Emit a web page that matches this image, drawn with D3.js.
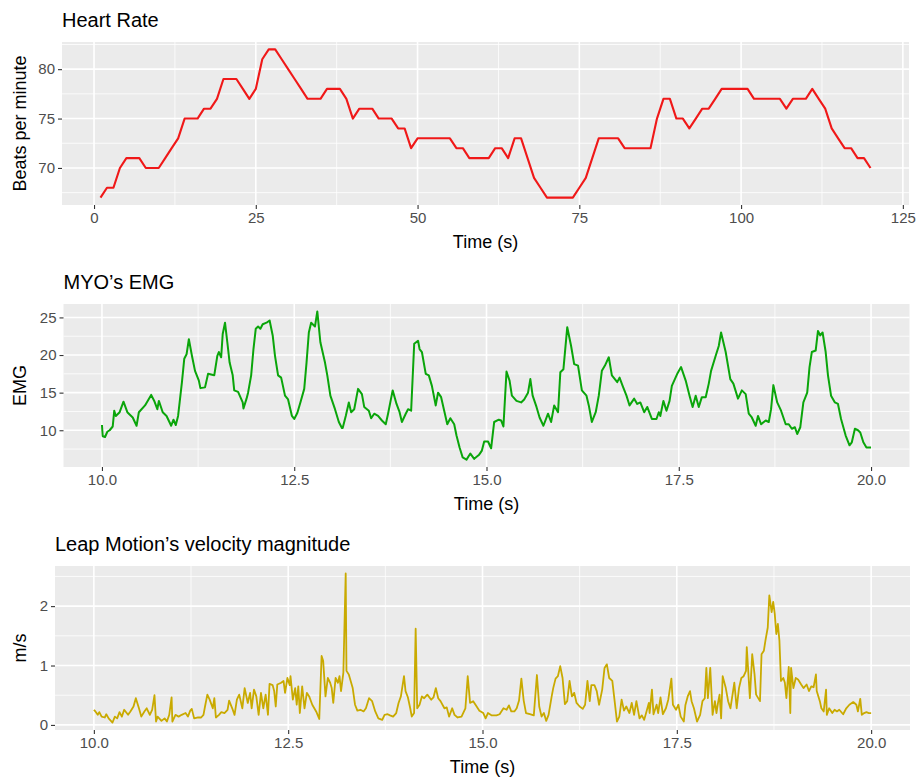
<!DOCTYPE html>
<html>
<head>
<meta charset="utf-8">
<script src="https://cdn.jsdelivr.net/npm/d3@7"></script>
<style>
  body { margin: 0; background: #ffffff; }
  svg text { font-family: "Liberation Sans", Arial, Helvetica, sans-serif; }
</style>
</head>
<body>
<svg id="chart" width="919" height="781"></svg>
<script>
// Heart rate, one reading per second (bpm)
const hrBpm = [
  67, 68, 68, 70, 71, 71, 71, 70, 70, 70,
  71, 72, 73, 75, 75, 75, 76, 76, 77, 79,
  79, 79, 78, 77, 78, 81, 82, 82, 81, 80,
  79, 78, 77, 77, 77, 78, 78, 78, 77, 75,
  76, 76, 76, 75, 75, 75, 74, 74, 72, 73,
  73, 73, 73, 73, 73, 72, 72, 71, 71, 71,
  71, 72, 72, 71, 73, 73, 71, 69, 68, 67,
  67, 67, 67, 67, 68, 69, 71, 73, 73, 73,
  73, 72, 72, 72, 72, 72, 75, 77, 77, 75,
  75, 74, 75, 76, 76, 77, 78, 78, 78, 78,
  78, 77, 77, 77, 77, 77, 76, 77, 77, 77,
  78, 77, 76, 74, 73, 72, 72, 71, 71, 70
];
const hrSeconds = hrBpm.map((_, i) => i + 1);
const hrTimeTicks = [0, 25, 50, 75, 100, 125];
const hrTimeMinor = [12.5, 37.5, 62.5, 87.5, 112.5];
const hrBpmTicks = [70, 75, 80];
const hrBpmMinor = [67.5, 72.5, 77.5, 82.5];

// MYO EMG envelope: [time (s), EMG]
const emgSamples = [
  [10.00,10.7],[10.01,9.2],[10.04,9.1],[10.07,9.8],[10.10,10.0],[10.14,10.5],[10.16,12.6],[10.18,11.9],
  [10.23,12.4],[10.28,13.8],[10.33,12.4],[10.40,11.7],[10.45,10.6],[10.48,12.4],[10.56,13.3],[10.64,14.7],
  [10.68,13.9],[10.72,12.8],[10.74,13.9],[10.79,12.4],[10.84,11.9],[10.90,10.6],[10.93,11.4],[10.96,10.7],
  [10.99,11.9],[11.01,13.7],[11.04,16.4],[11.07,19.5],[11.10,20.1],[11.13,22.1],[11.17,19.9],[11.21,17.9],
  [11.26,16.6],[11.28,15.6],[11.34,15.7],[11.38,17.5],[11.46,17.3],[11.50,19.9],[11.52,20.4],[11.55,19.7],
  [11.57,22.8],[11.60,24.3],[11.63,21.7],[11.66,19.0],[11.70,17.3],[11.72,15.3],[11.77,15.1],[11.83,13.7],
  [11.84,12.9],[11.88,14.2],[11.90,15.0],[11.94,17.3],[11.97,20.8],[12.00,23.5],[12.03,23.8],[12.06,23.5],
  [12.09,24.1],[12.14,24.3],[12.18,24.6],[12.22,22.6],[12.25,19.9],[12.29,17.3],[12.33,17.0],[12.38,14.6],
  [12.42,14.1],[12.47,11.9],[12.50,11.5],[12.54,12.3],[12.58,13.7],[12.63,15.5],[12.66,19.0],[12.69,23.0],
  [12.72,24.3],[12.77,23.8],[12.80,25.8],[12.84,21.7],[12.90,19.0],[12.93,17.3],[12.97,14.6],[13.03,12.8],
  [13.08,11.1],[13.12,10.3],[13.13,10.3],[13.17,11.9],[13.21,13.7],
  [13.24,12.4],[13.28,12.8],[13.33,15.5],[13.38,14.8],[13.41,13.1],[13.47,12.6],[13.50,11.6],[13.54,12.2],
  [13.59,11.9],[13.64,11.3],[13.69,10.8],[13.72,12.2],[13.78,15.3],[13.83,13.5],[13.87,12.4],[13.90,11.1],
  [13.95,12.2],[13.98,12.8],[14.02,12.6],[14.06,21.5],[14.11,21.9],[14.13,20.8],[14.16,20.4],[14.21,17.5],
  [14.25,17.3],[14.29,15.9],[14.34,13.3],[14.37,15.0],[14.41,14.4],[14.45,12.6],[14.49,10.8],[14.53,11.6],
  [14.58,10.8],[14.61,9.3],[14.65,7.7],[14.69,6.4],[14.74,6.1],[14.79,6.9],[14.84,6.2],[14.90,6.7],
  [14.94,7.3],[14.97,8.5],[15.02,8.5],[15.06,7.6],[15.10,11.1],[15.16,11.4],[15.19,11.3],[15.22,10.5],
  [15.26,17.8],[15.30,16.6],[15.33,14.6],[15.39,13.9],[15.45,13.7],[15.49,14.1],[15.54,15.0],[15.57,16.8],
  [15.60,14.6],[15.65,13.1],[15.69,11.7],[15.74,10.6],[15.80,12.2],[15.84,11.1],[15.88,13.3],[15.93,12.4],
  [15.96,17.7],[16.00,18.1],[16.05,23.7],[16.10,21.2],[16.14,18.8],[16.19,18.6],[16.24,15.3],[16.30,14.6],
  [16.33,13.3],[16.37,11.1],[16.42,12.4],[16.46,14.6],[16.50,17.9],[16.54,18.6],[16.59,19.7],[16.63,17.3],
  [16.70,16.4],
  [16.73,17.0],[16.77,15.9],[16.82,14.6],[16.86,13.3],[16.92,14.2],[16.96,13.5],[17.00,13.7],[17.05,12.4],
  [17.09,13.1],[17.15,11.5],[17.21,11.5],[17.24,12.4],[17.26,11.9],[17.30,13.9],[17.34,12.6],[17.38,13.9],
  [17.41,15.9],[17.48,17.5],[17.53,18.4],[17.59,16.6],[17.64,14.6],[17.68,13.1],[17.72,14.6],[17.76,13.1],
  [17.80,14.4],[17.85,14.4],[17.89,16.2],[17.92,17.9],[17.98,19.9],[18.02,21.2],[18.05,23.0],[18.11,20.4],
  [18.17,16.8],[18.21,16.2],[18.27,14.2],[18.32,15.3],[18.37,14.8],[18.41,12.2],[18.45,11.7],[18.50,10.6],
  [18.53,11.9],[18.57,10.8],[18.63,11.3],[18.67,11.1],[18.70,12.8],[18.73,16.0],[18.78,13.7],[18.83,12.6],
  [18.89,10.8],[18.93,10.8],[18.97,10.2],[19.01,10.4],[19.04,9.5],[19.08,10.4],[19.12,13.7],[19.17,15.0],
  [19.20,18.4],[19.23,20.4],[19.28,20.6],[19.31,23.2],[19.34,22.6],[19.37,23.0],[19.41,20.4],[19.44,17.3],
  [19.48,14.6],[19.53,13.7],[19.57,13.5],[19.61,11.5],[19.67,9.3],[19.72,8.0],[19.75,8.4],[19.79,10.2],
  [19.83,10.0],[19.86,9.7],[19.90,8.4],[19.94,7.7],[20.00,7.7]
];
const emgTimeTicks = [10, 12.5, 15, 17.5, 20];
const emgTimeMinor = [11.25, 13.75, 16.25, 18.75];
const emgTicks = [10, 15, 20, 25];
const emgMinor = [7.5, 12.5, 17.5, 22.5];

// Leap Motion hand velocity magnitude: [time (s), m/s]
const leapSamples = [
  [10.00,0.255],[10.02,0.227],[10.05,0.17],[10.07,0.215],[10.10,0.14],[10.14,0.125],[10.16,0.18],[10.19,0.11],
  [10.24,0.04],[10.27,0.14],[10.30,0.11],[10.33,0.215],[10.36,0.14],[10.39,0.255],[10.44,0.17],[10.47,0.227],
  [10.51,0.31],[10.54,0.45],[10.58,0.28],[10.61,0.14],[10.65,0.227],[10.68,0.28],[10.72,0.17],[10.75,0.255],
  [10.78,0.50],[10.80,0.057],[10.82,0.14],[10.87,0.068],[10.91,0.11],[10.94,0.057],[10.97,0.17],[11.00,0.465],
  [11.01,0.057],[11.05,0.17],[11.09,0.14],[11.13,0.17],[11.18,0.20],[11.21,0.14],[11.24,0.24],[11.26,0.27],
  [11.29,0.11],[11.34,0.125],[11.38,0.125],[11.41,0.17],[11.43,0.31],[11.46,0.51],[11.49,0.425],[11.53,0.28],
  [11.55,0.45],[11.57,0.125],[11.61,0.17],[11.64,0.215],[11.68,0.20],[11.72,0.255],[11.74,0.41],[11.78,0.28],
  [11.81,0.17],[11.84,0.425],[11.87,0.51],[11.91,0.28],[11.94,0.62],[11.98,0.37],[12.01,0.54],[12.03,0.28],
  [12.06,0.595],[12.09,0.48],[12.12,0.17],[12.15,0.54],[12.18,0.28],[12.21,0.51],[12.24,0.17],[12.26,0.69],
  [12.30,0.67],[12.32,0.57],[12.34,0.31],[12.36,0.68],
  [12.41,0.71],[12.44,0.74],[12.46,0.54],[12.49,0.79],[12.52,0.67],[12.53,0.82],[12.56,0.425],[12.59,0.62],
  [12.61,0.34],[12.63,0.65],[12.65,0.20],[12.68,0.65],[12.71,0.28],[12.74,0.54],[12.77,0.48],[12.81,0.34],
  [12.86,0.227],[12.90,0.10],[12.93,1.16],[12.95,1.08],[12.98,0.48],[13.01,0.79],[13.04,0.71],[13.06,0.62],
  [13.08,0.37],[13.11,0.79],[13.14,0.71],[13.16,0.82],[13.18,0.57],[13.21,0.88],[13.24,2.55],[13.25,0.91],
  [13.28,0.85],[13.33,0.62],[13.36,0.34],[13.39,0.24],[13.43,0.255],[13.47,0.227],[13.50,0.28],[13.54,0.45],
  [13.58,0.40],[13.62,0.227],[13.66,0.11],[13.71,0.085],[13.74,0.17],[13.78,0.18],[13.81,0.16],[13.85,0.14],
  [13.89,0.20],[13.92,0.37],[13.95,0.48],[13.99,0.82],[14.01,0.57],[14.04,0.465],[14.07,0.28],[14.09,0.14],
  [14.12,0.20],[14.14,1.62],[14.16,0.28],[14.19,0.34],[14.22,0.48],[14.25,0.45],[14.29,0.51],[14.34,0.425],
  [14.37,0.465],[14.40,0.62],[14.43,0.45],[14.46,0.40],[14.51,0.28],[14.54,0.295],[14.57,0.14],[14.61,0.28],
  [14.64,0.17],[14.68,0.125],[14.73,0.14],[14.78,0.28],[14.81,0.82],[14.84,0.37],[14.88,0.40],[14.91,0.34],
  [14.96,0.24],
  [15.01,0.20],[15.04,0.11],[15.07,0.20],[15.12,0.16],[15.18,0.16],[15.22,0.18],[15.27,0.28],[15.31,0.255],
  [15.34,0.33],[15.37,0.227],[15.41,0.227],[15.44,0.28],[15.47,0.41],[15.50,0.78],[15.53,0.41],[15.56,0.20],
  [15.61,0.18],[15.66,0.16],[15.70,0.84],[15.73,0.31],[15.76,0.14],[15.79,0.20],[15.82,0.068],[15.85,0.17],
  [15.89,0.48],[15.91,0.62],[15.94,0.78],[15.97,0.82],[16.00,0.99],[16.03,0.79],[16.06,0.35],[16.09,0.40],
  [16.12,0.74],[16.15,0.48],[16.18,0.54],[16.21,0.37],[16.25,0.31],[16.29,0.27],[16.32,0.34],[16.35,0.74],
  [16.38,0.40],[16.40,0.67],[16.44,0.67],[16.47,0.57],[16.50,0.34],[16.54,0.595],[16.57,0.96],[16.60,1.02],
  [16.63,0.79],[16.67,0.74],[16.70,0.40],[16.73,0.057],[16.76,0.14],[16.79,0.425],[16.82,0.24],[16.85,0.31],
  [16.89,0.20],[16.92,0.37],[16.95,0.17],[16.98,0.40],[17.02,0.11],[17.05,0.16],[17.08,0.085],[17.11,0.227],
  [17.14,0.37],[17.15,0.20],[17.18,0.595],[17.20,0.18],[17.24,0.34],[17.26,0.20],[17.29,0.465],[17.32,0.18],
  [17.36,0.28],[17.39,0.425],[17.43,0.78],[17.45,0.34],[17.49,0.255],[17.52,0.34],[17.55,0.14],[17.59,0.057],
  [17.61,0.33],[17.64,0.48],
  [17.67,0.57],[17.69,0.40],[17.72,0.28],[17.76,0.057],[17.80,0.17],[17.83,0.40],[17.86,0.45],[17.88,0.96],
  [17.90,0.45],[17.93,0.96],[17.96,0.17],[17.99,0.40],[18.01,0.20],[18.03,0.37],[18.05,0.51],[18.07,0.11],
  [18.09,0.82],[18.13,0.62],[18.16,0.40],[18.19,0.28],[18.21,0.45],[18.24,0.71],[18.27,0.28],[18.30,0.62],
  [18.33,0.79],[18.36,0.82],[18.39,0.91],[18.40,1.31],[18.44,0.45],[18.47,1.19],[18.50,0.85],[18.52,0.51],
  [18.57,0.40],[18.59,1.19],[18.62,1.25],[18.64,1.42],[18.67,1.64],[18.69,2.18],[18.72,1.90],[18.74,2.07],
  [18.76,1.87],[18.78,1.53],[18.80,1.70],[18.82,1.42],[18.84,0.74],[18.87,0.79],[18.89,0.71],[18.91,0.45],
  [18.94,0.975],[18.96,0.20],[18.97,0.96],[19.00,0.62],[19.03,0.79],[19.06,0.765],[19.10,0.68],[19.13,0.62],
  [19.17,0.68],[19.20,0.57],[19.23,0.65],[19.26,0.635],[19.29,0.85],[19.30,0.57],[19.34,0.40],[19.36,0.28],
  [19.39,0.227],[19.42,0.595],[19.43,0.17],[19.46,0.28],[19.50,0.20],[19.53,0.255],[19.56,0.227],[19.59,0.255],
  [19.64,0.18],[19.68,0.28],[19.72,0.34],[19.77,0.385],[19.81,0.34],[19.83,0.227],[19.86,0.44],[19.88,0.17],
  [19.91,0.20],[19.94,0.215],[19.97,0.20],[20.00,0.20]
];
const leapTimeTicks = [10, 12.5, 15, 17.5, 20];
const leapTimeMinor = [11.25, 13.75, 16.25, 18.75];
const leapTicks = [0, 1, 2];
const leapMinor = [0.5, 1.5, 2.5];

const svg = d3.select("#chart");

// ggplot-style continuous scale padding: 5% of the data range on each side
function padded(extent) {
  const pad = (extent[1] - extent[0]) * 0.05;
  return [extent[0] - pad, extent[1] + pad];
}

function drawPanel(p) {
  const g = svg.append("g");
  const x = d3.scaleLinear()
    .domain(padded(d3.extent(p.samples, d => d[0])))
    .range([p.left, p.right]);
  const y = d3.scaleLinear()
    .domain(padded(d3.extent(p.samples, d => d[1])))
    .range([p.bottom, p.top]);

  g.append("rect")
    .attr("x", p.left).attr("y", p.top)
    .attr("width", p.right - p.left).attr("height", p.bottom - p.top)
    .attr("fill", "#EBEBEB");

  // minor grid
  g.selectAll(".vminor").data(p.xMinor).join("line")
    .attr("x1", d => x(d)).attr("x2", d => x(d))
    .attr("y1", p.top).attr("y2", p.bottom)
    .attr("stroke", "#fff").attr("stroke-width", 0.8);
  g.selectAll(".hminor").data(p.yMinor).join("line")
    .attr("y1", d => y(d)).attr("y2", d => y(d))
    .attr("x1", p.left).attr("x2", p.right)
    .attr("stroke", "#fff").attr("stroke-width", 0.8);
  // major grid
  g.selectAll(".vmajor").data(p.xTicks).join("line")
    .attr("x1", d => x(d)).attr("x2", d => x(d))
    .attr("y1", p.top).attr("y2", p.bottom)
    .attr("stroke", "#fff").attr("stroke-width", 1.6);
  g.selectAll(".hmajor").data(p.yTicks).join("line")
    .attr("y1", d => y(d)).attr("y2", d => y(d))
    .attr("x1", p.left).attr("x2", p.right)
    .attr("stroke", "#fff").attr("stroke-width", 1.6);

  g.append("path")
    .datum(p.samples)
    .attr("fill", "none")
    .attr("stroke", p.color)
    .attr("stroke-width", p.lineWidth)
    .attr("stroke-linejoin", "round")
    .attr("d", d3.line().x(d => x(d[0])).y(d => y(d[1])));

  const xAxis = g.append("g")
    .attr("transform", `translate(0,${p.bottom})`)
    .call(d3.axisBottom(x).tickValues(p.xTicks).tickFormat(p.xFormat)
      .tickSize(4).tickPadding(3));
  const yAxis = g.append("g")
    .attr("transform", `translate(${p.left},0)`)
    .call(d3.axisLeft(y).tickValues(p.yTicks).tickFormat(d3.format("d"))
      .tickSize(4).tickPadding(3));
  [xAxis, yAxis].forEach(a => {
    a.select(".domain").remove();
    a.selectAll(".tick line").attr("stroke", "#333333").attr("stroke-width", 1.1);
    a.selectAll(".tick text").attr("fill", "#4D4D4D")
      .style("font-size", "15px")
      .style("font-family", '"Liberation Sans", Arial, sans-serif');
  });

  g.append("text")
    .attr("x", p.left).attr("y", p.top - 15)
    .attr("fill", "#000").style("font-size", "20px")
    .text(p.title);
  g.append("text")
    .attr("x", (p.left + p.right) / 2).attr("y", p.bottom + 43)
    .attr("text-anchor", "middle")
    .attr("fill", "#000").style("font-size", "18px")
    .text(p.xTitle);
  g.append("text")
    .attr("transform", `translate(26,${(p.top + p.bottom) / 2}) rotate(-90)`)
    .attr("text-anchor", "middle")
    .attr("fill", "#000").style("font-size", "18px")
    .text(p.yTitle);
}

drawPanel({
  title: "Heart Rate", xTitle: "Time (s)", yTitle: "Beats per minute",
  samples: hrSeconds.map((t, i) => [t, hrBpm[i]]),
  left: 62, right: 909, top: 42, bottom: 205,
  xTicks: hrTimeTicks, xMinor: hrTimeMinor, yTicks: hrBpmTicks, yMinor: hrBpmMinor,
  xFormat: d3.format("d"), color: "#F01818", lineWidth: 2.1
});

drawPanel({
  title: "MYO\u2019s EMG", xTitle: "Time (s)", yTitle: "EMG",
  samples: emgSamples,
  left: 63.5, right: 909.5, top: 304, bottom: 467,
  xTicks: emgTimeTicks, xMinor: emgTimeMinor, yTicks: emgTicks, yMinor: emgMinor,
  xFormat: d3.format(".1f"), color: "#0AA50A", lineWidth: 2.0
});

drawPanel({
  title: "Leap Motion\u2019s velocity magnitude", xTitle: "Time (s)", yTitle: "m/s",
  samples: leapSamples,
  left: 55, right: 910, top: 566, bottom: 730,
  xTicks: leapTimeTicks, xMinor: leapTimeMinor, yTicks: leapTicks, yMinor: leapMinor,
  xFormat: d3.format(".1f"), color: "#C9AA00", lineWidth: 1.8
});
</script>
</body>
</html>
